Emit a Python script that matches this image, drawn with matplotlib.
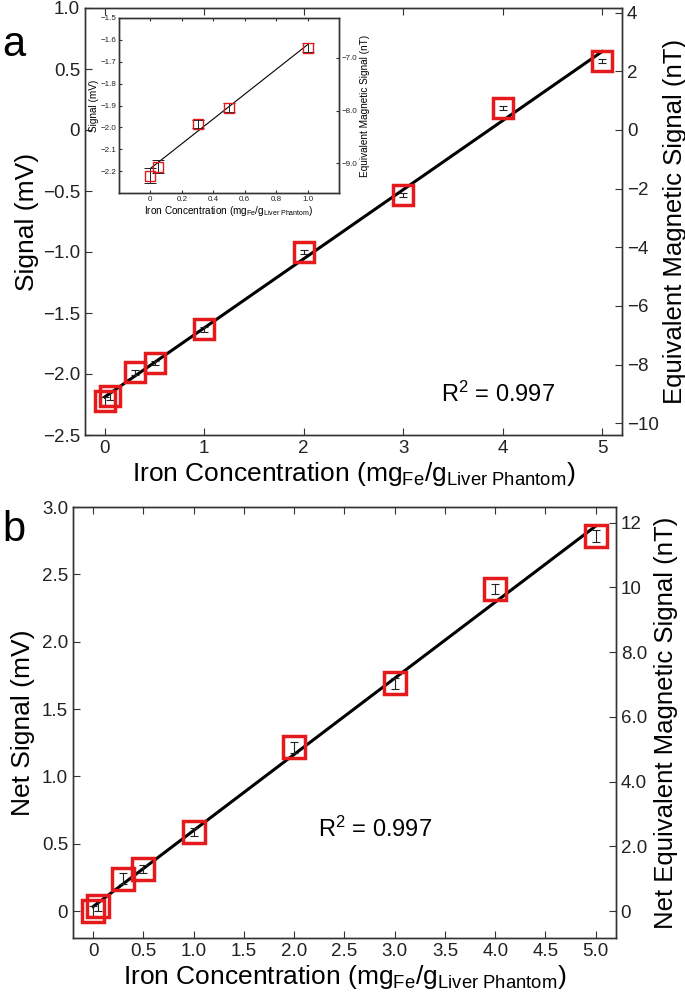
import numpy as np
import matplotlib
matplotlib.use('Agg')
import matplotlib.pyplot as plt

plt.rcParams['font.family'] = ['Liberation Sans', 'DejaVu Sans']
plt.rcParams['mathtext.fontset'] = 'custom'
plt.rcParams['mathtext.rm'] = 'Liberation Sans'
plt.rcParams['mathtext.it'] = 'Liberation Sans'

# Iron concentrations (mg Fe / g liver phantom)
conc = np.array([0, 0.05, 0.3, 0.5, 1, 2, 3, 4, 5])

# Panel a: raw signal (mV) and error bars
signal = np.array([-2.22, -2.18, -1.985, -1.91, -1.635, -1.0, -0.533, 0.18, 0.566])
signal_err = np.array([0.035, 0.03, 0.02, 0.02, 0.02, 0.02, 0.02, 0.02, 0.02])

# Panel b: net signal (mV) and error bars
net_signal = np.array([0.0, 0.04, 0.24, 0.31, 0.585, 1.215, 1.69, 2.39, 2.785])
net_err = np.array([0.04, 0.04, 0.04, 0.03, 0.03, 0.04, 0.04, 0.035, 0.045])

nT_per_mV = 4.16  # conversion for right-hand axes

xlabel = r'Iron Concentration (mg$_{\mathrm{Fe}}$/g$_{\mathrm{Liver\ Phantom}}$)'
grey = '#333333'
red = '#e41a1c'


def style_axes(ax, size, length=5):
    for s in ax.spines.values():
        s.set_color(grey)
        s.set_linewidth(1.0)
    ax.tick_params(direction='in', length=length, width=0.8, colors=grey,
                   labelcolor='#222222', labelsize=size, top=True)


def draw_points(ax, y, err, ms, mew, capsize, elw):
    ax.errorbar(conc, y, yerr=err, fmt='none', ecolor='#222222',
                elinewidth=elw, capsize=capsize, capthick=elw, zorder=3)
    ax.plot(conc, y, 's', ms=ms, mfc='none', mec=red, mew=mew, zorder=4)


fig = plt.figure(figsize=(6.85, 10), dpi=100)

# ---------------- panel a ----------------
axa = fig.add_axes([0.124, 0.565, 0.784, 0.427])
fit_a = np.polyfit(conc, signal, 1)
xx = np.array([0, 5])
axa.plot(xx, np.polyval(fit_a, xx), color='black', lw=2.2, zorder=2)
draw_points(axa, signal, signal_err, 15, 2.5, 3, 0.8)
axa.set_xlim(-0.2, 5.2)
axa.set_ylim(-2.5, 1.0)
axa.set_xticks([0, 1, 2, 3, 4, 5])
axa.set_yticks([-2.5, -2.0, -1.5, -1.0, -0.5, 0, 0.5, 1.0])
axa.set_yticklabels(['\u22122.5', '\u22122.0', '\u22121.5', '\u22121.0', '\u22120.5', '0', '0.5', '1.0'])
style_axes(axa, 13.5)
axa.set_xlabel(xlabel, fontsize=19, labelpad=2)
axa.set_ylabel('Signal (mV)', fontsize=19, labelpad=3)
axa.text(3.38, -2.17, r'R$^2$ = 0.997', fontsize=17, va='center', ha='left')

axa2 = axa.twinx()
axa2.set_ylim(-2.5 * nT_per_mV, 1.0 * nT_per_mV)
axa2.set_yticks([-10, -8, -6, -4, -2, 0, 2, 4])
axa2.set_yticklabels(['\u221210', '\u22128', '\u22126', '\u22124', '\u22122', '0', '2', '4'])
style_axes(axa2, 13.5)
axa2.tick_params(top=False)
axa2.set_ylabel('Equivalent Magnetic Signal (nT)', fontsize=18.5, labelpad=3)

fig.text(0.003, 0.955, 'a', fontsize=30, va='center')

# inset
axi = fig.add_axes([0.1737, 0.807, 0.3213, 0.175])
xi = np.array([0, 1])
axi.plot(xi, np.polyval(fit_a, xi), color='black', lw=0.8, zorder=2)
draw_points(axi, signal, signal_err, 7, 1.0, 4, 0.7)
axi.set_xlim(-0.2, 1.2)
axi.set_ylim(-2.3, -1.5)
axi.set_xticks([0, 0.2, 0.4, 0.6, 0.8, 1.0])
axi.set_xticklabels(['0', '0.2', '0.4', '0.6', '0.8', '1.0'])
yi = [-2.2, -2.1, -2.0, -1.9, -1.8, -1.7, -1.6, -1.5]
axi.set_yticks(yi)
axi.set_yticklabels(['\u2212%.1f' % abs(v) for v in yi])
style_axes(axi, 5.8, length=2.5)
axi.tick_params(pad=2)
axi.set_xlabel(xlabel, fontsize=7.2, labelpad=1)
axi.set_ylabel('Signal (mV)', fontsize=7.2, labelpad=1)
axi.set_facecolor('white')

axi2 = axi.twinx()
axi2.set_ylim(-2.3 * nT_per_mV, -1.5 * nT_per_mV)
axi2.set_yticks([-9, -8, -7])
axi2.set_yticklabels(['\u22129.0', '\u22128.0', '\u22127.0'])
style_axes(axi2, 5.8, length=2.5)
axi2.tick_params(top=False, pad=2)
axi2.set_ylabel('Equivalent Magnetic Signal (nT)', fontsize=7.2, labelpad=2)

# ---------------- panel b ----------------
axb = fig.add_axes([0.1066, 0.062, 0.7924, 0.431])
fit_b = np.polyfit(conc, net_signal, 1)
axb.plot(xx, np.polyval(fit_b, xx), color='black', lw=2.2, zorder=2)
draw_points(axb, net_signal, net_err, 16, 2.5, 3, 0.8)
axb.set_xlim(-0.2, 5.2)
axb.set_ylim(-0.2, 3.0)
xb = np.arange(0, 5.01, 0.5)
axb.set_xticks(xb)
axb.set_xticklabels(['0'] + ['%.1f' % v for v in xb[1:]])
yb = [0, 0.5, 1.0, 1.5, 2.0, 2.5, 3.0]
axb.set_yticks(yb)
axb.set_yticklabels(['0'] + ['%.1f' % v for v in yb[1:]])
style_axes(axb, 13.5)
axb.set_xlabel(xlabel, fontsize=19, labelpad=2)
axb.set_ylabel('Net Signal (mV)', fontsize=19, labelpad=5)
axb.text(2.24, 0.61, r'R$^2$ = 0.997', fontsize=17, va='center', ha='left')

axb2 = axb.twinx()
axb2.set_ylim(-0.2 * nT_per_mV, 3.0 * nT_per_mV)
axb2.set_yticks([0, 2, 4, 6, 8, 10, 12])
axb2.set_yticklabels(['0', '2.0', '4.0', '6.0', '8.0', '10', '12'])
style_axes(axb2, 13.5)
axb2.tick_params(top=False)
axb2.set_ylabel('Net Equivalent Magnetic Signal (nT)', fontsize=18.5, labelpad=5)

fig.text(0.003, 0.47, 'b', fontsize=30, va='center')

fig.savefig('out.png', dpi=100)
